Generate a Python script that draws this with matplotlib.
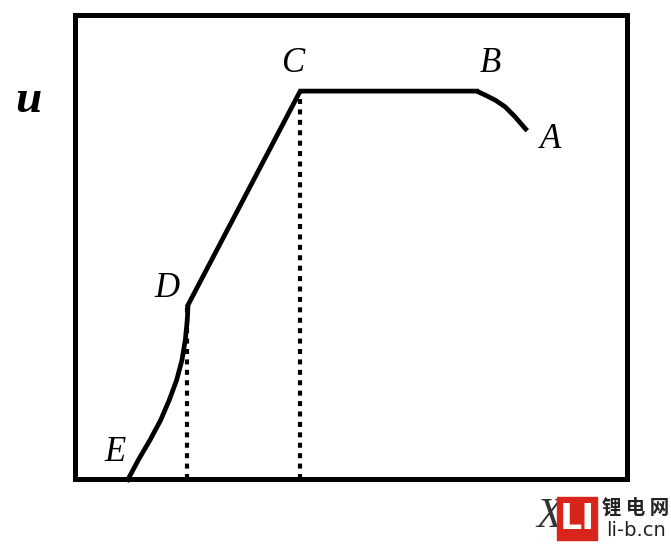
import matplotlib
matplotlib.use("Agg")
import matplotlib.pyplot as plt
from matplotlib.patches import Rectangle

# curve E -> D (lower bend)
ed_x = [9.37, 11.47, 13.59, 15.53, 17.08, 18.42, 19.38, 19.98, 20.34, 20.47]
ed_y = [-0.6, 4.09, 8.41, 12.72, 17.03, 21.34, 25.65, 29.96, 34.27, 37.5]
# straight D -> C -> B
dcb_x = [20.47, 40.8, 72.77]
dcb_y = [37.5, 83.6, 83.6]
# curve B -> A
ba_x = [72.77, 74.28, 76.09, 77.9, 79.71, 81.52, 81.94]
ba_y = [83.6, 82.76, 81.68, 80.24, 78.08, 75.58, 75.06]

point_names = ["E", "D", "C", "B", "A"]
label_x = [7.3, 16.6, 39.4, 75.2, 86.2]
label_y = [5.8, 41.0, 89.5, 89.6, 73.1]

drop_x = [20.3, 40.8]
drop_top = [37.5, 83.6]

fig = plt.figure(figsize=(6.71, 5.44), dpi=100)
ax = fig.add_axes([75/671, 65/544, 552/671, 464/544])
ax.set_xlim(0, 100)
ax.set_ylim(0, 100)
ax.set_xticks([])
ax.set_yticks([])
for s in ax.spines.values():
    s.set_linewidth(3.6)

lw = 3.4
ax.plot(ed_x, ed_y, color="k", lw=lw, solid_capstyle="butt", clip_on=False)
ax.plot(dcb_x, dcb_y, color="k", lw=lw, solid_joinstyle="miter")
ax.plot(ba_x, ba_y, color="k", lw=lw, solid_capstyle="butt")

for x, top in zip(drop_x, drop_top):
    ax.plot([x, x], [0, top], color="k", lw=3.0, linestyle=(0, (1.2, 1.3)))

serif = ["Liberation Serif", "DejaVu Serif"]
for name, x, y in zip(point_names, label_x, label_y):
    ax.text(x, y, name, fontsize=25, fontstyle="italic", family=serif,
            ha="center", va="center")

fig.text(0.042, 0.815, "u", fontsize=34, fontstyle="italic", fontweight="bold",
         family=serif, ha="center", va="center")
fig.text(0.818, 0.05, "X", fontsize=30, fontstyle="italic", family=serif,
         ha="center", va="center", color="#333333", zorder=1)

# watermark logo
fig.patches.append(Rectangle((557/671, 4/544), 40/671, 43/544,
                             transform=fig.transFigure, color="#d9241b", zorder=2))
fig.text(577/671, 25/544, "LI", fontsize=25, fontweight="bold", color="white",
         ha="center", va="center", zorder=3, family="DejaVu Sans")
fig.text(636/671, 36/544, "锂 电 网", fontsize=14, fontweight="bold",
         family=["Noto Sans CJK SC", "DejaVu Sans"], color="#222222",
         ha="center", va="center")
fig.text(636/671, 13/544, "li-b.cn", fontsize=14, family="DejaVu Sans",
         color="#222222", ha="center", va="center")

fig.savefig("out.png", dpi=100)
